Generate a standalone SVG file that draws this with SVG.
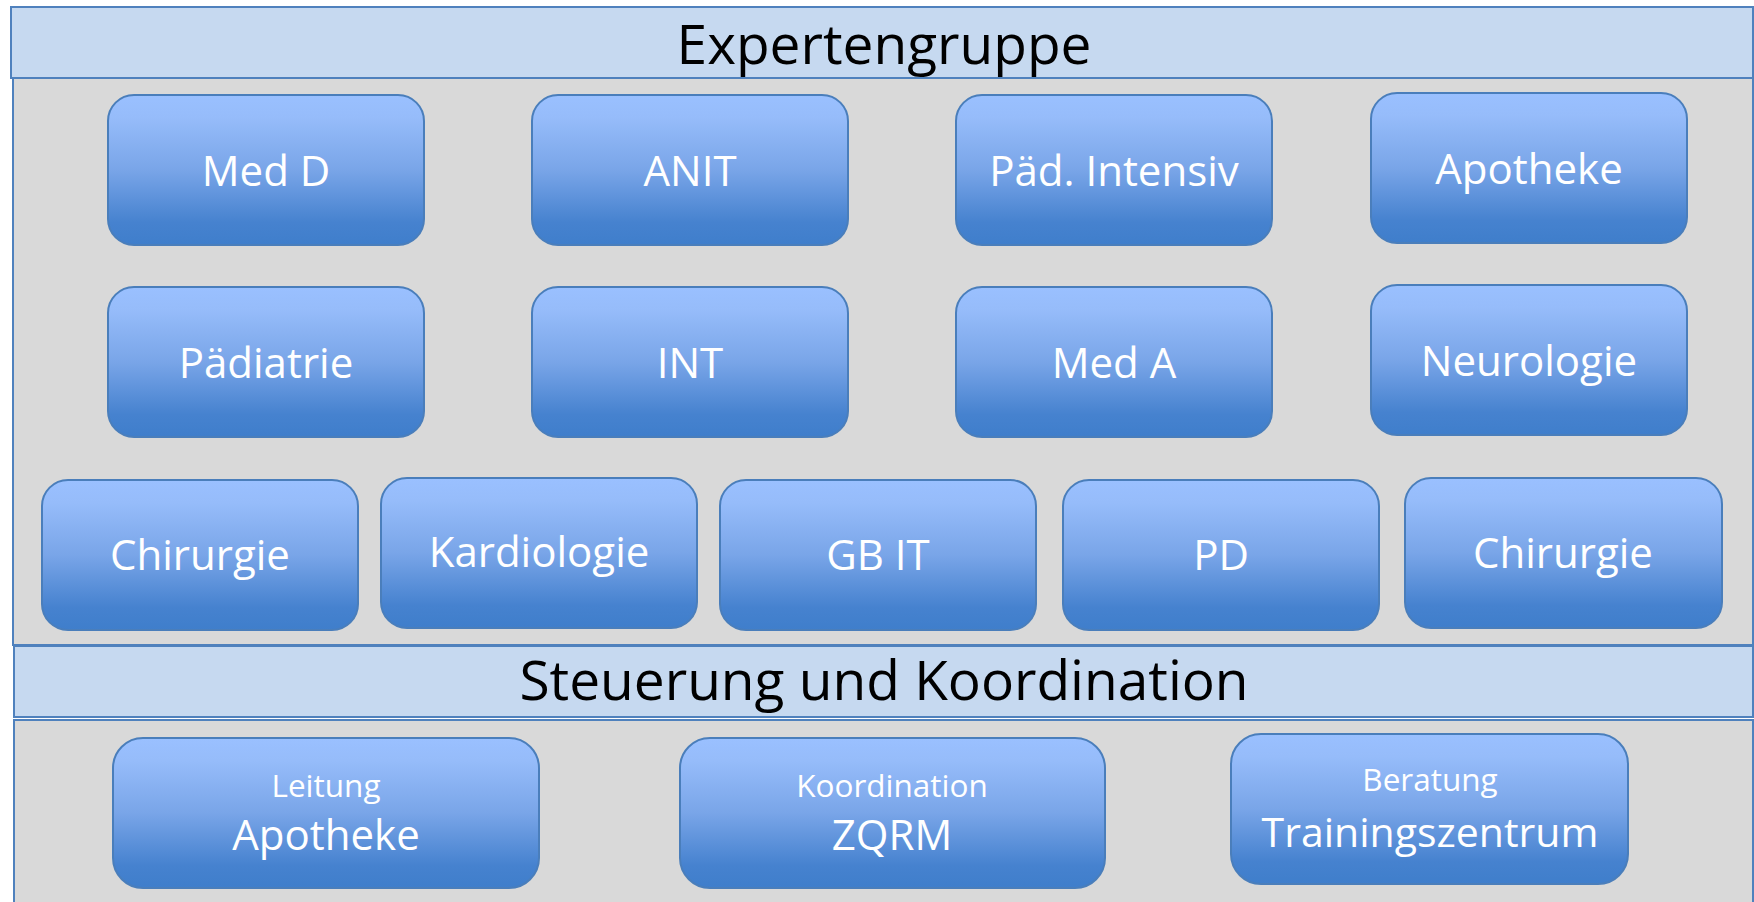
<svg xmlns="http://www.w3.org/2000/svg" width="1754" height="902" viewBox="0 0 1754 902">
<defs>
<linearGradient id="ng" x1="0" y1="0" x2="0" y2="1">
<stop offset="0" stop-color="#9AC0FF"/>
<stop offset="0.15" stop-color="#96BCFA"/>
<stop offset="0.5" stop-color="#79A5E8"/>
<stop offset="0.85" stop-color="#4682CF"/>
<stop offset="1" stop-color="#3F7ECB"/>
</linearGradient>
<style>
.hdr{fill:#C6D9F0;stroke:#4F81BD;stroke-width:2}
.pan{fill:#D9D9D9;stroke:#4F81BD;stroke-width:2}
.node rect{fill:url(#ng);stroke:#4A7EBB;stroke-width:2}
.node text{fill:#FFFFFF;font-family:"Open Sans","Noto Sans",sans-serif;text-anchor:middle}
.lbl{font-size:42px}
.lbl2{font-size:41px}
.sub{font-size:31.5px}
.htxt{fill:#000000;font-family:"Open Sans","Noto Sans",sans-serif;font-size:55px;text-anchor:middle}
</style>
</defs>
<rect width="1754" height="902" fill="#FFFFFF"/>
<g id="panel-experten">
<rect class="pan" x="13" y="78" width="1740" height="567"/>
<rect class="hdr" x="11" y="7" width="1742" height="71"/>
<text class="htxt" x="884" y="64">Expertengruppe</text>
</g>
<g id="panel-steuerung">
<rect class="pan" x="14" y="720" width="1739" height="184"/>
<rect class="hdr" x="14" y="646" width="1739" height="71"/>
<text class="htxt" x="884" y="700">Steuerung und Koordination</text>
</g>
<g id="n-medd" class="node"><rect x="108" y="95" width="316" height="150" rx="26"/><text class="lbl" x="266" y="186">Med D</text></g>
<g id="n-anit" class="node"><rect x="532" y="95" width="316" height="150" rx="26"/><text class="lbl" x="690" y="186">ANIT</text></g>
<g id="n-paedint" class="node"><rect x="956" y="95" width="316" height="150" rx="26"/><text class="lbl" x="1114" y="186">Päd. Intensiv</text></g>
<g id="n-apotheke" class="node"><rect x="1371" y="93" width="316" height="150" rx="26"/><text class="lbl" x="1529" y="184">Apotheke</text></g>
<g id="n-paediatrie" class="node"><rect x="108" y="287" width="316" height="150" rx="26"/><text class="lbl" x="266" y="378">Pädiatrie</text></g>
<g id="n-int" class="node"><rect x="532" y="287" width="316" height="150" rx="26"/><text class="lbl" x="690" y="378">INT</text></g>
<g id="n-meda" class="node"><rect x="956" y="287" width="316" height="150" rx="26"/><text class="lbl" x="1114" y="378">Med A</text></g>
<g id="n-neuro" class="node"><rect x="1371" y="285" width="316" height="150" rx="26"/><text class="lbl" x="1529" y="376">Neurologie</text></g>
<g id="n-chir1" class="node"><rect x="42" y="480" width="316" height="150" rx="26"/><text class="lbl" x="200" y="570">Chirurgie</text></g>
<g id="n-kardio" class="node"><rect x="381" y="478" width="316" height="150" rx="26"/><text class="lbl" x="539" y="567">Kardiologie</text></g>
<g id="n-gbit" class="node"><rect x="720" y="480" width="316" height="150" rx="26"/><text class="lbl" x="878" y="570">GB IT</text></g>
<g id="n-pd" class="node"><rect x="1063" y="480" width="316" height="150" rx="26"/><text class="lbl" x="1221" y="570">PD</text></g>
<g id="n-chir2" class="node"><rect x="1405" y="478" width="317" height="150" rx="26"/><text class="lbl" x="1563" y="568">Chirurgie</text></g>
<g id="n-leitung" class="node"><rect x="113" y="738" width="426" height="150" rx="30"/><text class="sub" x="326" y="797">Leitung</text><text class="lbl" x="326" y="850">Apotheke</text></g>
<g id="n-zqrm" class="node"><rect x="680" y="738" width="425" height="150" rx="30"/><text class="sub" x="892" y="797">Koordination</text><text class="lbl" x="892" y="850">ZQRM</text></g>
<g id="n-training" class="node"><rect x="1231" y="734" width="397" height="150" rx="30"/><text class="sub" x="1430" y="791">Beratung</text><text class="lbl2" x="1430" y="847">Trainingszentrum</text></g>
<g id="connectors"/>
</svg>
